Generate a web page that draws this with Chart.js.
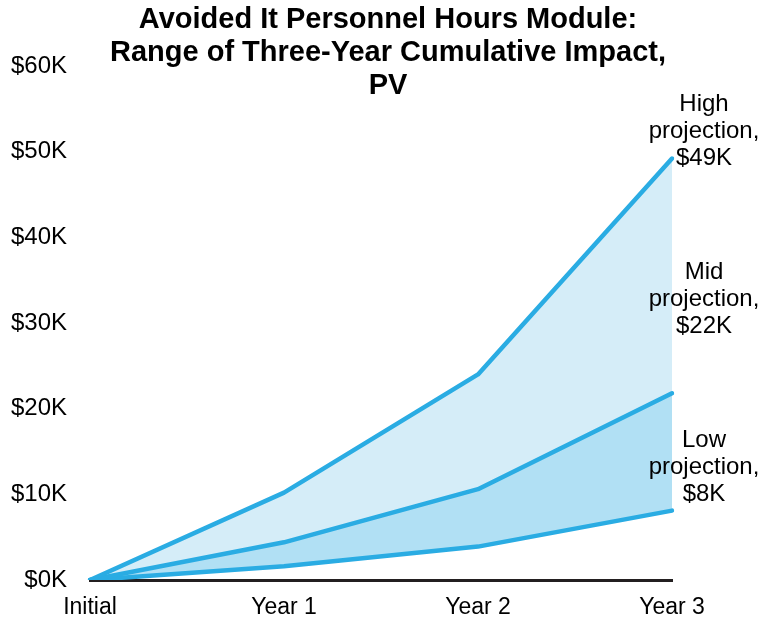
<!DOCTYPE html>
<html>
<head>
<meta charset="utf-8">
<script src="https://cdn.jsdelivr.net/npm/chart.js@4"></script>
<style>
  html, body { margin: 0; padding: 0; background: #fff; }
  #wrap { width: 778px; height: 623px; }
</style>
</head>
<body>
<div id="wrap"><canvas id="chart" width="778" height="623"></canvas></div>
<script>
// values in $K
const periods = ['Initial', 'Year 1', 'Year 2', 'Year 3'];
const highValues = [0, 10.2, 24.0, 49.2];
const midValues = [0, 4.4, 10.6, 21.8];
const lowValues = [0, 1.6, 3.9, 8.1];
const yTicks = [0, 10, 20, 30, 40, 50, 60];
const titleLines = ['Avoided It Personnel Hours Module:', 'Range of Three-Year Cumulative Impact,', 'PV'];
const sideLabels = [
    ['High', 'projection,', '$49K'],
    ['Mid', 'projection,', '$22K'],
    ['Low', 'projection,', '$8K']
];
// value ($K) at which the middle line of each side label sits
const sideLabelAnchors = [52.4, 32.7, 13.2];

const lineColor = '#2aace3';
const fontFamily = 'Arial, "Liberation Sans", sans-serif';

const textPlugin = {
    id: 'textPlugin',
    afterDraw(chart) {
        const ctx = chart.ctx;
        const yScale = chart.scales.y;
        const area = chart.chartArea;
        ctx.save();
        ctx.fillStyle = '#000';
        ctx.textAlign = 'center';
        ctx.textBaseline = 'middle';

        // title overlays the top of the plot
        ctx.font = 'bold 29px ' + fontFamily;
        titleLines.forEach((line, i) => {
            ctx.fillText(line, 388, 20 + i * 33);
        });

        // projection labels to the right of Year 3
        ctx.font = '24px ' + fontFamily;
        sideLabels.forEach((lines, i) => {
            const cy = yScale.getPixelForValue(sideLabelAnchors[i]);
            lines.forEach((line, j) => {
                ctx.fillText(line, area.right + 32, cy + (j - 1) * 27);
            });
        });
        ctx.restore();
    }
};

new Chart(document.getElementById('chart'), {
    type: 'line',
    data: {
        labels: periods,
        datasets: [
            {
                label: 'High projection',
                data: highValues,
                borderColor: lineColor,
                backgroundColor: '#d5edf8',
                fill: '+1'
            },
            {
                label: 'Mid projection',
                data: midValues,
                borderColor: lineColor,
                backgroundColor: '#b1e0f4',
                fill: '+1'
            },
            {
                label: 'Low projection',
                data: lowValues,
                borderColor: lineColor,
                backgroundColor: 'transparent',
                fill: false
            }
        ]
    },
    options: {
        responsive: false,
        animation: false,
        devicePixelRatio: 1,
        layout: { padding: { top: 66, right: 106, left: 0, bottom: 0 } },
        elements: {
            line: { borderWidth: 4.5, tension: 0, borderCapStyle: 'round', borderJoinStyle: 'round' },
            point: { radius: 0, hoverRadius: 0 }
        },
        plugins: {
            legend: { display: false },
            title: { display: false },
            tooltip: { enabled: false },
            filler: { drawTime: 'beforeDatasetsDraw' }
        },
        scales: {
            x: {
                offset: false,
                grid: { display: false, drawTicks: false },
                border: { display: true, color: '#231f20', width: 3 },
                ticks: {
                    color: '#000',
                    font: { family: fontFamily, size: 23 },
                    padding: 14,
                    maxRotation: 0
                },
                afterFit: s => { s.height = 43; }
            },
            y: {
                min: 0,
                max: 60,
                afterBuildTicks: s => { s.ticks = yTicks.map(v => ({ value: v })); },
                grid: { display: false, drawTicks: false },
                border: { display: false },
                ticks: {
                    color: '#000',
                    crossAlign: 'near',
                    padding: 23,
                    font: { family: fontFamily, size: 24 },
                    callback: v => '$' + v + 'K'
                },
                afterFit: s => { s.width = 90; }
            }
        }
    },
    plugins: [textPlugin]
});
</script>
</body>
</html>
